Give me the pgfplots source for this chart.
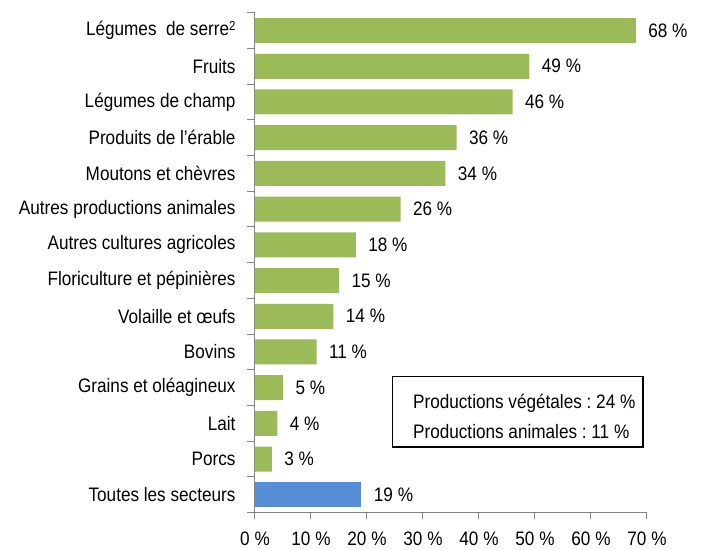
\documentclass[border=0pt]{standalone}
\usepackage{fontspec}
\setmainfont{Liberation Sans}[FakeStretch=0.88]
\usepackage{pgfplots}
\pgfplotsset{compat=1.18}
\definecolor{barGreen}{HTML}{9BBB59}
\definecolor{barBlue}{HTML}{558ED5}
\definecolor{axGray}{HTML}{868686}
\frenchspacing
\begin{document}
\begin{tikzpicture}
\path[use as bounding box] (-255pt,-36.3pt) rectangle (449pt,512.7pt);
\begin{axis}[
  at={(0pt,0pt)}, anchor=south west,
  scale only axis, width=392pt, height=500pt,
  font=\fontsize{19.5}{23}\selectfont,
  /pgf/number format/assume math mode=true,
  xbar, bar width=0.7,
  xmin=0, xmax=70, ymin=-0.5, ymax=13.5,
  axis lines*=left,
  axis line style={axGray, line width=1pt},
  tick align=outside,
  xtick={0,10,...,70},
  xticklabels={0 \%,10 \%,20 \%,30 \%,40 \%,50 \%,60 \%,70 \%},
  xticklabel style={yshift=-10pt},
  x tick style={axGray, line width=1pt},
  major tick length=6pt,
  ytick={0,...,13},
  yticklabels={Toutes les secteurs,Porcs,Lait,Grains et oléagineux,Bovins,Volaille et œufs,Floriculture et pépinières,Autres cultures agricoles,Autres productions animales,Moutons et chèvres,Produits de l'érable,Légumes de champ,Fruits,{Légumes\ \ de serre\raisebox{0.55ex}{\fontsize{13}{13}\selectfont 2}}},
  y tick style={draw=none},
  yticklabel style={xshift=-10pt},
  extra y ticks={-0.5,0.5,...,13.5},
  extra y tick labels={},
  extra y tick style={y tick style={draw=axGray, line width=1pt}, major tick length=8pt},
  nodes near coords={\pgfmathprintnumber{\pgfplotspointmeta}~\%},
  nodes near coords style={anchor=west, xshift=9pt, black},
  clip=false,
]
\addplot[fill=barGreen, draw=none, bar shift=0pt] coordinates {
(68,13) (49,12) (46,11) (36,10) (34,9) (26,8) (18,7) (15,6) (14,5) (11,4) (5,3) (4,2) (3,1)};
\addplot[fill=barBlue, draw=none, bar shift=0pt] coordinates {(19,0)};
\draw[black, line width=1.3pt] (axis cs:24.6,1.34) rectangle (axis cs:69.3,3.31);
\node[anchor=west, align=left, inner sep=0pt, font=\fontsize{19.5}{30}\selectfont] at (axis cs:28.2,2.19) {Productions végétales : 24~\%\\Productions animales : 11~\%};
\end{axis}
\end{tikzpicture}
\end{document}
